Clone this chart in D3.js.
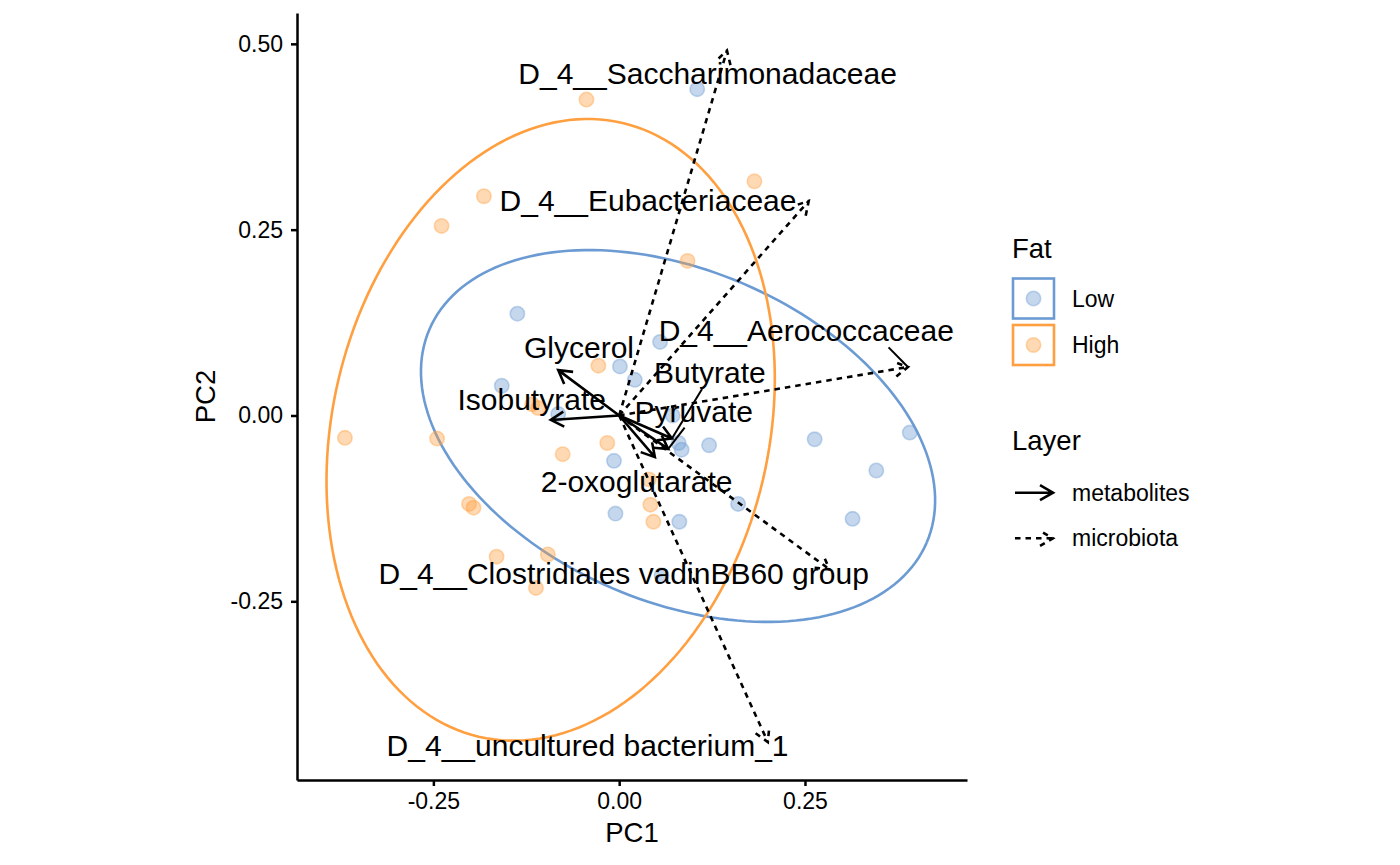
<!DOCTYPE html>
<html>
<head>
<meta charset="utf-8">
<script src="https://cdn.jsdelivr.net/npm/d3@7"></script>
<style>
  body { margin: 0; background: #fff; }
  svg text { font-family: "Liberation Sans", Arial, Helvetica, sans-serif; fill: #000; }
</style>
</head>
<body>
<div id="chart"></div>
<script>
// sample scores
const lowPC1 = [0.105, -0.137, 0.055, 0.001, 0.021, -0.158, -0.082, 0.072, 0.080, 0.084,
                0.121, 0.263, 0.391, 0.346, -0.007, 0.160, 0.314, -0.005, 0.081, 0.057];
const lowPC2 = [0.439, 0.137, 0.099, 0.066, 0.048, 0.040, 0.002, 0.000, -0.037, -0.046,
                -0.040, -0.032, -0.023, -0.074, -0.061, -0.119, -0.139, -0.132, -0.143, -0.215];
const highPC1 = [-0.044, 0.182, -0.182, -0.239, 0.092, -0.028, -0.117, -0.109, -0.369, -0.245,
                 -0.016, -0.076, 0.040, -0.202, -0.196, 0.042, 0.046, -0.165, -0.096, -0.112];
const highPC2 = [0.425, 0.315, 0.295, 0.255, 0.208, 0.067, 0.015, 0.010, -0.030, -0.031,
                 -0.037, -0.052, -0.086, -0.119, -0.124, -0.120, -0.143, -0.190, -0.187, -0.232];

const fatLevels = ["Low", "High"];
const fatColors = ["#6B9BD2", "#FF9F40"];

// 95% ellipses per group: centre, semi axes, angle (deg, from PC1 axis)
const ellipseCx = [0.0792, -0.0922];
const ellipseCy = [-0.0276, -0.0193];
const ellipseMajor = [0.364, 0.424];
const ellipseMinor = [0.223, 0.2934];
const ellipseAngle = [-23.2, 76.8];

// loadings (arrow tips) and repelled label positions
const metaboliteNames = ["Glycerol", "Isobutyrate", "Butyrate", "Pyruvate", "2-oxoglutarate"];
const metaboliteX = [-0.082, -0.092, 0.071, 0.066, 0.048];
const metaboliteY = [0.061, -0.006, -0.031, -0.045, -0.056];
const metaboliteLabelX = [-0.0541, -0.1177, 0.122, 0.1003, 0.0235];
const metaboliteLabelY = [0.0915, 0.0209, 0.0579, 0.006, -0.0891];

const microbeNames = ["D_4__Saccharimonadaceae", "D_4__Eubacteriaceae", "D_4__Aerococcaceae",
                      "D_4__Clostridiales vadinBB60 group", "D_4__uncultured bacterium_1"];
const microbeX = [0.145, 0.255, 0.3885, 0.283, 0.200];
const microbeY = [0.491, 0.2886, 0.0652, -0.207, -0.4393];
const microbeLabelX = [0.119, 0.0388, 0.2517, 0.0061, -0.0425];
const microbeLabelY = [0.4602, 0.2895, 0.1139, -0.2123, -0.4444];

const layerNames = ["metabolites", "microbiota"];

const xTicks = [-0.25, 0, 0.25];
const yTicks = [-0.25, 0, 0.25, 0.5];
const xLimits = [-0.4335, 0.468];
const yLimits = [-0.4904, 0.5415];


const width = 1400, height = 865;
const panel = { left: 297, right: 967, top: 13, bottom: 780 };

const svg = d3.select("#chart").append("svg")
    .attr("width", width)
    .attr("height", height);

const x = d3.scaleLinear().domain(xLimits).range([panel.left, panel.right]);
const y = d3.scaleLinear().domain(yLimits).range([panel.bottom, panel.top]);

const dashes = "5.5,5";
const lineW = 2.6;

// arrow path: shaft from origin plus open head
function arrowPath(x0, y0, x1, y1, len) {
    let ang = Math.atan2(y1 - y0, x1 - x0);
    let a1 = ang + Math.PI - Math.PI / 6;
    let a2 = ang + Math.PI + Math.PI / 6;
    return "M" + x0 + "," + y0 + "L" + x1 + "," + y1 +
        "M" + (x1 + len * Math.cos(a1)) + "," + (y1 + len * Math.sin(a1)) +
        "L" + x1 + "," + y1 +
        "L" + (x1 + len * Math.cos(a2)) + "," + (y1 + len * Math.sin(a2));
}

// ggrepel style: closest point on the label box, nudged toward its centre
function connectPoint(px, py, b) {
    let out = [px, py];
    let left = false, right = false, top = false, bottom = false;
    if (px > b.x2) { out[0] = b.x2; right = true; }
    else if (px < b.x1) { out[0] = b.x1; left = true; }
    if (py > b.y2) { out[1] = b.y2; bottom = true; }
    else if (py < b.y1) { out[1] = b.y1; top = true; }
    let mx = (b.x1 + b.x2) / 2, my = (b.y1 + b.y2) / 2;
    let d = Math.hypot(px - out[0], py - out[1]);
    if ((top || bottom) && !(left || right)) {
        let alt = Math.hypot(px - mx, py - out[1]);
        out[0] = out[0] + (mx - out[0]) * d / alt;
    } else if ((left || right) && !(top || bottom)) {
        let alt = Math.hypot(px - out[0], py - my);
        out[1] = out[1] + (my - out[1]) * d / alt;
    } else if (left || right) {
        let alt1 = Math.hypot(px - mx, py - out[1]);
        let alt2 = Math.hypot(px - out[0], py - my);
        if (alt1 < alt2) out[0] = out[0] + (mx - out[0]) * d / alt1;
        else out[1] = out[1] + (my - out[1]) * d / alt2;
    }
    return out;
}

// ellipses
let ellipseLine = d3.line().x(d => x(d[0])).y(d => y(d[1]));
let angles = d3.range(0, 362, 2).map(d => d * Math.PI / 180);

let ellipseG = svg.append("g").attr("class", "ellipses");
fatLevels.forEach((f, i) => {
    let th = ellipseAngle[i] * Math.PI / 180;
    let pts = angles.map(t => {
        let u = ellipseMajor[i] * Math.cos(t), v = ellipseMinor[i] * Math.sin(t);
        return [ellipseCx[i] + u * Math.cos(th) - v * Math.sin(th),
                ellipseCy[i] + u * Math.sin(th) + v * Math.cos(th)];
    });
    ellipseG.append("path")
        .attr("d", ellipseLine(pts))
        .attr("fill", "none")
        .attr("stroke", fatColors[i])
        .attr("stroke-width", lineW);
});

// points
let samples = [];
lowPC1.forEach((d, i) => samples.push({ pc1: d, pc2: lowPC2[i], fat: 0 }));
highPC1.forEach((d, i) => samples.push({ pc1: d, pc2: highPC2[i], fat: 1 }));

svg.append("g").attr("class", "points")
    .selectAll("circle")
    .data(samples)
    .enter().append("circle")
    .attr("cx", d => x(d.pc1))
    .attr("cy", d => y(d.pc2))
    .attr("r", 7.2)
    .attr("fill", d => fatColors[d.fat])
    .attr("fill-opacity", 0.4)
    .attr("stroke", d => fatColors[d.fat])
    .attr("stroke-opacity", 0.4)
    .attr("stroke-width", 1.6);

// arrows
let arrows = [];
microbeNames.forEach((d, i) => arrows.push({ name: d, tx: microbeX[i], ty: microbeY[i],
    lx: microbeLabelX[i], ly: microbeLabelY[i], layer: 1 }));
metaboliteNames.forEach((d, i) => arrows.push({ name: d, tx: metaboliteX[i], ty: metaboliteY[i],
    lx: metaboliteLabelX[i], ly: metaboliteLabelY[i], layer: 0 }));

svg.append("g").attr("class", "arrows")
    .selectAll("path")
    .data(arrows)
    .enter().append("path")
    .attr("d", d => arrowPath(x(0), y(0), x(d.tx), y(d.ty), 15))
    .attr("fill", "none")
    .attr("stroke", "#000")
    .attr("stroke-width", lineW)
    .attr("stroke-dasharray", d => d.layer === 1 ? dashes : null);

// labels (with repel-style segments)
let segG = svg.append("g").attr("class", "segments");
let labelG = svg.append("g").attr("class", "labels");

let labels = labelG.selectAll("text")
    .data(arrows)
    .enter().append("text")
    .attr("x", d => x(d.lx))
    .attr("y", d => y(d.ly))
    .attr("dy", "0.35em")
    .attr("text-anchor", "middle")
    .style("font-size", "30px")
    .text(d => d.name);

labels.each(function(d) {
    let b = this.getBBox();
    let box = { x1: b.x - 4, x2: b.x + b.width + 4, y1: b.y, y2: b.y + b.height };
    let tx = x(d.tx), ty = y(d.ty);
    let s = connectPoint(tx, ty, box);
    if (Math.hypot(tx - s[0], ty - s[1]) < 16) return;
    segG.append("line")
        .attr("x1", s[0]).attr("y1", s[1])
        .attr("x2", tx).attr("y2", ty)
        .attr("stroke", "#000")
        .attr("stroke-width", 2);
});

// axes
let xAxis = svg.append("g")
    .attr("transform", "translate(0," + panel.bottom + ")")
    .call(d3.axisBottom(x).tickValues(xTicks).tickFormat(d => d.toFixed(2))
        .tickSize(6).tickPadding(7).tickSizeOuter(0));
let yAxis = svg.append("g")
    .attr("transform", "translate(" + panel.left + ",0)")
    .call(d3.axisLeft(y).tickValues(yTicks).tickFormat(d => d.toFixed(2))
        .tickSize(6).tickPadding(8).tickSizeOuter(0));

[xAxis, yAxis].forEach(a => {
    a.select(".domain").attr("stroke", "#000").attr("stroke-width", 2.5);
    a.selectAll(".tick line").attr("stroke", "#000").attr("stroke-width", 2.5);
    a.selectAll(".tick text")
        .style("font-size", "23px")
        .style("font-family", "'Liberation Sans', Arial, sans-serif")
        .attr("fill", "#000");
});

svg.append("text")
    .attr("x", (panel.left + panel.right) / 2)
    .attr("y", 842)
    .attr("text-anchor", "middle")
    .style("font-size", "27.5px")
    .text("PC1");

svg.append("text")
    .attr("transform", "translate(215," + (panel.top + panel.bottom) / 2 + ") rotate(-90)")
    .attr("text-anchor", "middle")
    .style("font-size", "27.5px")
    .text("PC2");

// legends
let legend = svg.append("g").attr("class", "legend");

legend.append("text")
    .attr("x", 1012).attr("y", 258)
    .style("font-size", "27.5px")
    .text("Fat");

fatLevels.forEach((f, i) => {
    let cy = 298.5 + i * 46.5;
    legend.append("rect")
        .attr("x", 1013).attr("y", cy - 20)
        .attr("width", 41).attr("height", 40)
        .attr("fill", "none")
        .attr("stroke", fatColors[i])
        .attr("stroke-width", lineW);
    legend.append("circle")
        .attr("cx", 1033.5).attr("cy", cy).attr("r", 7.2)
        .attr("fill", fatColors[i]).attr("fill-opacity", 0.4)
        .attr("stroke", fatColors[i]).attr("stroke-opacity", 0.4)
        .attr("stroke-width", 1.6);
    legend.append("text")
        .attr("x", 1072).attr("y", cy).attr("dy", "0.35em")
        .style("font-size", "23px")
        .text(f);
});

legend.append("text")
    .attr("x", 1012).attr("y", 450)
    .style("font-size", "27.5px")
    .text("Layer");

layerNames.forEach((l, i) => {
    let cy = 492.7 + i * 45.6;
    legend.append("path")
        .attr("d", arrowPath(1015, cy, 1053, cy, 15))
        .attr("fill", "none")
        .attr("stroke", "#000")
        .attr("stroke-width", lineW)
        .attr("stroke-dasharray", i === 1 ? dashes : null);
    legend.append("text")
        .attr("x", 1072).attr("y", cy).attr("dy", "0.35em")
        .style("font-size", "23px")
        .text(l);
});
</script>
</body>
</html>
